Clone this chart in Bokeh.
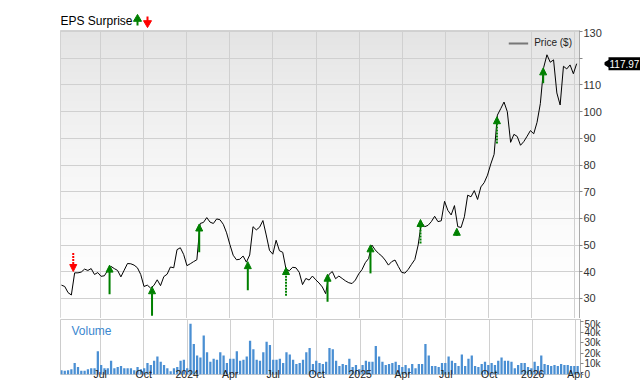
import numpy as np
import pandas as pd
from bokeh.plotting import figure
from bokeh.layouts import column, row
from bokeh.models import (Range1d, FixedTicker, Label, Legend, LegendItem,
                          ColumnDataSource, Arrow, NormalHead)
from bokeh.core.properties import value
from bokeh.embed import file_html
from bokeh.resources import INLINE

# ---------------- data ----------------
start_date = "2023-04-10"
price = [35, 34.5, 32.2, 31.3, 39.6, 39.6, 39.9, 41, 40.5, 41.2,
         39, 39.7, 38.3, 38.5, 40.5, 42, 41.2, 40.5, 38.1, 40.6,
         43.1, 43, 42.5, 41.5, 39, 34.5, 35, 33.9, 34.9, 37,
         34.8, 38.2, 39.1, 41.8, 41.5, 48.3, 49, 46.5, 42.3, 43,
         43.8, 44.5, 58.1, 58.5, 60.3, 58.6, 58.1, 59.8, 59.5, 57.8,
         54.6, 50.2, 46.2, 44.5, 44.7, 45.9, 43.6, 46.3, 56.9, 55.7,
         56.7, 59.2, 53.8, 48, 46.6, 51.8, 47.9, 47.3, 41, 40.4,
         41.7, 41.5, 39.8, 35.2, 37.5, 36.9, 38.4, 37, 35.8, 34.3,
         31.8, 39, 40.1, 37.4, 38.4, 37.5, 36.6, 35.9, 35.6, 36.9,
         39.2, 40.8, 43.4, 45, 50, 48.2, 46.9, 45.9, 44.4, 42.5,
         43.8, 44.4, 42, 39.8, 39.5, 40.9, 42.8, 44.6, 50, 58.5,
         56.9, 57.4, 58.8, 60.8, 58.8, 59.1, 66.4, 63, 61.3, 64.8,
         56.9, 56.6, 60.6, 68.7, 68.1, 70.4, 67.1, 71.8, 73.4, 76.2,
         80.4, 84, 98.7, 101.1, 103.6, 100, 88.5, 91.5, 90.7, 87.4,
         88.8, 90.8, 92.9, 91.7, 96, 103, 116.5, 121.3, 118.5, 119.4,
         107, 102.5, 117, 116, 117.5, 114.2, 117.97]

volume_k = [4, 3.5, 4, 5, 11, 7, 3.5, 3.5, 5, 6, 6, 22, 9,
            6, 6, 13, 6, 7, 8, 6, 6, 6, 4, 7, 5, 6,
            11, 9, 13, 17, 12, 9, 6, 3, 6, 7, 13, 14, 6,
            48, 29, 18, 16, 37, 21, 12, 15, 14, 21, 18, 11, 15,
            15, 22, 13, 14, 17, 32, 24, 14, 13, 21, 31, 28, 14,
            14, 15, 11, 21, 19, 14, 10, 11, 14, 21, 25, 10, 13,
            11, 10, 12, 25, 24, 13, 8, 10, 9, 15, 7, 9, 5,
            9, 13, 12, 12, 27, 17, 12, 9, 10, 11, 12, 9, 7,
            9, 6, 10, 6, 10, 10, 29, 18, 8, 8, 7, 11, 11,
            17, 13, 11, 8, 19, 8, 15, 18, 8, 7, 10, 12, 9,
            11, 9, 13, 16, 13, 13, 12, 6, 9, 11, 11, 7, 6,
            12, 8, 18, 10, 9, 8, 9, 8, 10, 9, 9, 8, 8, 8]

eps_dates = ["2023-05-05", "2023-07-21", "2023-10-19", "2024-01-27",
             "2024-05-09", "2024-07-29", "2024-10-25", "2025-01-24",
             "2025-05-10", "2025-07-26", "2025-10-19", "2026-01-25"]
eps_from = [47.0, 31.6, 23.5, 47.3, 33.1, 31.0, 28.8, 39.4, 50.6, 53.4, 88.1, 110.6]
eps_to = [40.1, 42.5, 34.4, 57.9, 43.8, 41.6, 39.1, 50.1, 59.6, 56.3, 98.1, 116.4]
eps_result = ["miss", "beat", "beat", "beat", "beat", "beat",
              "beat", "beat", "beat", "beat", "beat", "beat"]
eps_dashed = [True, False, False, False, False, True,
              False, False, True, True, True, False]

tick_dates = ["2023-07-01", "2023-10-01", "2024-01-01", "2024-04-01",
              "2024-07-01", "2024-10-01", "2025-01-01", "2025-04-01",
              "2025-07-01", "2025-10-01", "2026-01-01", "2026-04-01"]
tick_labels = ["Jul", "Oct", "2024", "Apr", "Jul", "Oct", "2025", "Apr",
               "Jul", "Oct", "2026", "Apr"]
price_ticks = [30, 40, 50, 60, 70, 80, 90, 100, 110, 120, 130]
price_labels = ["30", "40", "50", "60", "70", "80", "90", "100", "110", "", "130"]
vol_ticks = [0, 10000, 20000, 30000, 40000, 50000]
vol_labels = ["0", "10k", "20k", "30k", "40k", "50k"]
last_price = 117.97
title_text = "EPS Surprise"

x_start, x_end = "2023-04-08", "2026-04-12"
y_lo, y_hi = 22.5, 130.4

# ---------------- helpers ----------------
dates = pd.date_range(start_date, periods=len(price), freq="7D")
volume = [v * 1000 for v in volume_k]
tick_ms = [pd.Timestamp(d).value // 10**6 for d in tick_dates]
FONT = "Liberation Sans"
GRID = "#d0d0d0"
GREEN = "#008000"
RED = "#ff0000"

xr = Range1d(pd.Timestamp(x_start), pd.Timestamp(x_end))
yr = Range1d(y_lo, y_hi)

def bare(fig):
    fig.xgrid.visible = False
    fig.ygrid.visible = False
    fig.outline_line_color = None
    fig.background_fill_color = "white"
    fig.border_fill_color = "white"

# ---------------- title strip (pixel-like coordinates, frame = x 60..580) ----------------
ptop = figure(width=640, height=28, x_range=Range1d(60, 580), y_range=Range1d(0, 28),
              title=None, output_backend="svg", toolbar_location=None,
              min_border_left=60, min_border_right=60, min_border_top=0,
              min_border_bottom=0, x_axis_location=None, y_axis_location=None)
bare(ptop)
ptop.text(x=[60], y=[0.5], text=[title_text], text_font=value(FONT),
          text_font_size="12px", text_color="black", text_baseline="bottom")
# green up arrow
ptop.segment(x0=[137], y0=[3], x1=[137], y1=[8], line_color=GREEN, line_width=2)
ptop.scatter(x=[137], y=[9.5], marker="triangle", size=8, fill_color=GREEN,
             line_color=GREEN)
# red down arrow
ptop.segment(x0=[147], y0=[12], x1=[147], y1=[7], line_color=RED, line_width=2)
ptop.scatter(x=[147], y=[5.5], marker="inverted_triangle", size=8, fill_color=RED,
             line_color=RED)

# ---------------- price panel ----------------
p1 = figure(width=604, height=290, x_axis_type="datetime", x_range=xr,
            y_range=yr, x_axis_location=None, title=None,
            y_axis_location="right", output_backend="svg",
            toolbar_location=None, min_border_left=60, min_border_right=24,
            min_border_top=2, min_border_bottom=0)
p1.outline_line_color = "#cccccc"
p1.background_fill_color = "white"

# soft vertical gradient backdrop
n = 120
t = np.linspace(0, 1, n)
g = (255 - 27 * t ** 1.7).astype(np.uint8)
img = np.empty((n, 1), dtype=np.uint32)
view = img.view(np.uint8).reshape((n, 1, 4))
view[:, 0, 0] = g
view[:, 0, 1] = g
view[:, 0, 2] = g
view[:, 0, 3] = 255
x0 = pd.Timestamp(x_start).value / 1e6
x1 = pd.Timestamp(x_end).value / 1e6
p1.image_rgba(image=[img], x=x0, y=y_lo, dw=x1 - x0, dh=y_hi - y_lo, level="image")

p1.xgrid.ticker = FixedTicker(ticks=tick_ms)
p1.xgrid.grid_line_color = GRID
p1.ygrid.grid_line_color = GRID
p1.ygrid.ticker = FixedTicker(ticks=price_ticks)
ax = p1.yaxis[0]
ax.ticker = FixedTicker(ticks=price_ticks)
ax.major_label_overrides = {v: l for v, l in zip(price_ticks, price_labels)}
ax.major_label_text_font = FONT
ax.major_label_text_font_size = "11px"
ax.major_label_text_color = "#333333"
ax.axis_line_color = "#aaaaaa"
ax.major_tick_line_color = "#888888"
ax.major_tick_out = 3
ax.major_tick_in = 0
ax.minor_tick_line_color = None
ax.major_label_standoff = 1

p1.line(dates, price, line_color="black", line_width=1)

# EPS surprise arrows
groups = [("miss", True, RED), ("beat", False, GREEN), ("beat", True, GREEN)]
for res, dsh, col in groups:
    idx = [i for i in range(len(eps_dates)) if eps_result[i] == res and eps_dashed[i] == dsh]
    if not idx:
        continue
    src = ColumnDataSource(dict(
        xs=[pd.Timestamp(eps_dates[i]) for i in idx],
        y0=[eps_from[i] for i in idx],
        y1=[eps_to[i] for i in idx]))
    arr = Arrow(x_start="xs", y_start="y0", x_end="xs", y_end="y1", source=src,
                line_color=col, line_width=2, line_dash="2 1" if dsh else "solid",
                end=NormalHead(size=7, fill_color=col, line_color=col, line_width=1))
    p1.add_layout(arr)

# legend (sample line only)
leg_r = p1.line(x=[dates[0], dates[1]], y=[np.nan, np.nan], line_color="#777777", line_width=2)
legend = Legend(items=[LegendItem(label="Price ($)", renderers=[leg_r])],
                location="top_right", border_line_alpha=0, background_fill_alpha=0,
                label_text_font=FONT, label_text_font_size="10px",
                label_text_color="#222222", glyph_width=20, glyph_height=10,
                label_height=10, padding=4, margin=3, label_standoff=6)
p1.add_layout(legend)

# ---------------- last-price tag (shares the price scale) ----------------
ptag = figure(width=36, height=290, x_range=Range1d(0, 36), y_range=yr, title=None,
              output_backend="svg", toolbar_location=None, min_border_left=0,
              min_border_right=0, min_border_top=2, min_border_bottom=0,
              x_axis_location=None, y_axis_location=None)
bare(ptag)
ptag.rect(x=[20], y=[last_price], width=32, height=13, width_units="screen",
          height_units="screen", fill_color="black", line_color=None)
ptag.scatter(x=[4], y=[last_price], marker="triangle", angle=np.pi / 2, size=11,
             fill_color="black", line_color=None)
ptag.text(x=[5], y=[last_price], text=[f"{last_price:.2f}"], text_font=value(FONT),
          text_font_size="10px", text_color="white", text_baseline="middle",
          text_align="left")

# ---------------- volume panel ----------------
p2 = figure(width=640, height=64, x_axis_type="datetime", x_range=xr,
            y_range=Range1d(0, 52100), y_axis_location="right", title=None,
            output_backend="svg", toolbar_location=None,
            min_border_left=60, min_border_right=60, min_border_top=1,
            min_border_bottom=0)
p2.outline_line_color = "#cccccc"
p2.vbar(x=dates, top=volume, width=4.8 * 86400000, fill_color="#4a8fd3",
        line_color=None)
p2.xgrid.ticker = FixedTicker(ticks=tick_ms)
p2.xgrid.grid_line_color = GRID
p2.ygrid.grid_line_color = None
xa = p2.xaxis[0]
xa.ticker = FixedTicker(ticks=tick_ms)
xa.major_label_overrides = {ms: lab for ms, lab in zip(tick_ms, tick_labels)}
xa.major_label_text_font = FONT
xa.major_label_text_font_size = "10.5px"
xa.major_label_text_color = "#222222"
xa.major_label_text_line_height = 1.0
xa.axis_line_color = None
xa.major_tick_line_color = None
xa.major_tick_out = 0
xa.major_tick_in = 0
xa.minor_tick_out = 0
xa.minor_tick_in = 0
xa.minor_tick_line_color = None
xa.major_label_standoff = -7
ya = p2.yaxis[0]
ya.ticker = FixedTicker(ticks=vol_ticks)
ya.major_label_overrides = {v: l for v, l in zip(vol_ticks, vol_labels)}
ya.major_label_text_font = FONT
ya.major_label_text_font_size = "10px"
ya.major_label_text_color = "#333333"
ya.axis_line_color = "#aaaaaa"
ya.major_tick_line_color = "#888888"
ya.major_tick_out = 3
ya.major_tick_in = 0
ya.minor_tick_line_color = None
ya.major_label_standoff = 1

p2.add_layout(Label(x=11, y=44, x_units="screen", y_units="screen", text="Volume",
                    text_font=FONT, text_font_size="12px", text_color="#3a87cf",
                    text_baseline="middle"))

layout = column(ptop, row(p1, ptag, spacing=0), p2, spacing=0)
open("out.html", "w").write(file_html(layout, INLINE))
